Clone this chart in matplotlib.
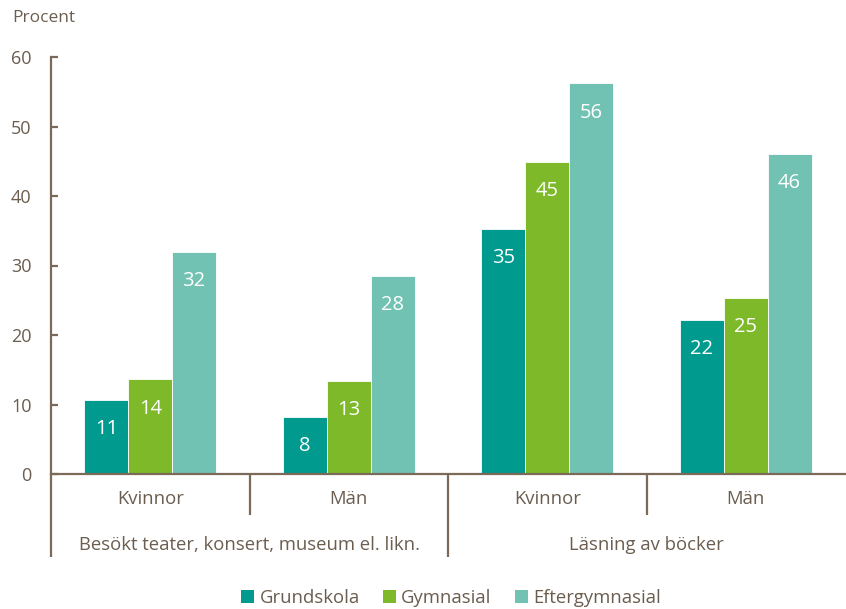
import matplotlib
matplotlib.use("Agg")
import matplotlib.pyplot as plt
from matplotlib.patches import Patch
import numpy as np

plt.rcParams['font.family'] = ['Open Sans', 'DejaVu Sans']

categories = ["Kvinnor", "Män", "Kvinnor", "Män"]
groups = ["Besökt teater, konsert, museum el. likn.", "Läsning av böcker"]
series_names = ["Grundskola", "Gymnasial", "Eftergymnasial"]
grundskola = [10.7, 8.2, 35.3, 22.2]
gymnasial = [13.6, 13.4, 44.9, 25.3]
eftergymnasial = [32.0, 28.5, 56.2, 46.1]
yticks = [0, 10, 20, 30, 40, 50, 60]

colors = ["#009A8F", "#7DB928", "#72C2B4"]
txt = "#6B5D4F"
axc = "#7B6A58"

W, H = 846, 609
fig = plt.figure(figsize=(W/100, H/100), dpi=100)
ax = fig.add_axes([51/W, (H-474)/H, (845-51)/W, (474-57)/H])

x = np.arange(len(categories))
bw = 0.221
all_series = [grundskola, gymnasial, eftergymnasial]
for i, (vals, c) in enumerate(zip(all_series, colors)):
    pos = x + (i-1)*bw
    ax.bar(pos, vals, width=bw, color=c, edgecolor="white", linewidth=0.6, zorder=2)
    for xp, v in zip(pos, vals):
        ax.annotate(f"{int(round(v))}", (xp, v), xytext=(0, -21), textcoords="offset points",
                    ha="center", va="center", color="white", fontsize=14.5, zorder=3)

ax.set_xlim(-0.5, 3.5)
ax.set_ylim(0, 60)
ax.set_yticks(yticks)
ax.set_yticklabels([str(t) for t in yticks])
ax.set_xticks([])
for s in ["top", "right"]:
    ax.spines[s].set_visible(False)
for s in ["left", "bottom"]:
    ax.spines[s].set_color(axc)
    ax.spines[s].set_linewidth(1.6)
ax.tick_params(axis="y", direction="in", length=5, width=1.6, color=axc,
               labelcolor=txt, labelsize=13, pad=14)

tr = ax.get_xaxis_transform()
# category labels
for xi, lab in zip(x, categories):
    ax.text(xi, -25/417, lab, transform=tr, ha="center", va="center",
            color=txt, fontsize=13.3)
# group labels
for gi, g in enumerate(groups):
    ax.text(0.5 + 2*gi, -71/417, g, transform=tr, ha="center", va="center",
            color=txt, fontsize=13.3)

# separators
ax.plot([-0.5, -0.5], [0, -83/417], transform=tr, color=axc, lw=1.6, clip_on=False,
        solid_capstyle="butt")
for sx in [0.5, 2.5]:
    ax.plot([sx, sx], [0, -41/417], transform=tr, color=axc, lw=1.6, clip_on=False,
            solid_capstyle="butt")
ax.plot([1.5, 1.5], [0, -83/417], transform=tr, color=axc, lw=1.6, clip_on=False,
        solid_capstyle="butt")

fig.text(12/W, 1-18/H, "Procent", ha="left", va="center", color=txt, fontsize=12.5)

handles = [Patch(facecolor=c, edgecolor="none") for c in colors]
leg = fig.legend(handles, series_names, loc="center", bbox_to_anchor=(451/W, 1-598/H), ncol=3,
                 frameon=False, fontsize=13.3, handlelength=0.7, handleheight=0.7,
                 handletextpad=0.3, columnspacing=1.25, borderaxespad=0)
for t in leg.get_texts():
    t.set_color(txt)

fig.savefig("out.png", dpi=100)
